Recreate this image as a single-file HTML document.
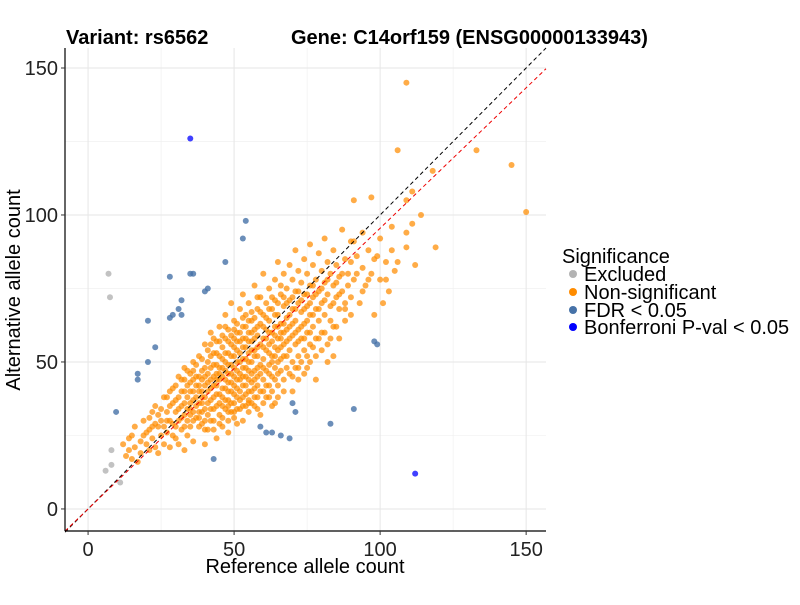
<!DOCTYPE html>
<html><head><meta charset="utf-8"><style>
body{margin:0;background:#fff;width:800px;height:600px;overflow:hidden;font-family:"Liberation Sans",sans-serif}
</style></head><body>
<svg id="chart" width="800" height="600" xmlns="http://www.w3.org/2000/svg" font-family="Liberation Sans, sans-serif">
<text x="66" y="44" font-size="20" font-weight="bold">Variant: rs6562</text>
<text x="291" y="44" font-size="20" font-weight="bold">Gene: C14orf159 (ENSG00000133943)</text>
<g id="grid"></g>
<g id="lines"></g>
<g id="points"></g>
<g id="axes"></g>
<text x="305" y="573" font-size="20" text-anchor="middle">Reference allele count</text>
<text transform="translate(20,290) rotate(-90)" font-size="20" text-anchor="middle">Alternative allele count</text>
<g>
<text x="562" y="263" font-size="20">Significance</text>
<circle cx="573" cy="274" r="4" fill="#b3b3b3"/>
<text x="584" y="281" font-size="20">Excluded</text>
<circle cx="573" cy="292" r="4" fill="#ff8c00"/>
<text x="584" y="299" font-size="20">Non-significant</text>
<circle cx="573" cy="310" r="4" fill="#4672a8"/>
<text x="584" y="317" font-size="20">FDR &lt; 0.05</text>
<circle cx="573" cy="327" r="4" fill="#0000ff"/>
<text x="584" y="334" font-size="20">Bonferroni P-val &lt; 0.05</text>
</g>
</svg>
<script>
const xTicks=[0,50,100,150];
const yTicks=[0,50,100,150];
const minorTicks=[25,75,125];
const slope=0.955;
const excluded=[[7,80],[7.5,72],[8,20],[8,15],[6,13],[11,9]];
const bonferroni=[[35,126],[112,12]];
const fdr=[[54,98],[53,92],[47,84],[28,79],[35,80],[36,80],[40,74],[41,75],[32,71],[31,68],[32,66],[28,65],[29,66],[20.5,64],[23,55],[20.5,50],[17,46],[17,44],[9.6,33],[43,17],[59,28],[61,26],[63,26],[66,25],[69,24],[70,36],[71,33],[83,29],[91,34],[98,57],[99,56]];
const nonsig=[[109,145],[106,122],[133,122],[145,117],[150,101],[118,115],[111,108],[109,105],[97,106],[91,105],[114,100],[111,97],[109,94],[109,89],[119,89],[112,83],[94,94],[91,91],
[12,22],[14,20],[15,25],[13,18],[17,16],[18,23],[16,28],[19,30],[20,26],[21,20],[22,33],[22,24],[23,35],[24,28],[24,19],[25,30],[26,38],[26,22],[27,33],[27,26],[28,40],[28,30],[28,21],[29,36],[29,25],[30,42],[30,33],[30,28],[31,38],[31,30],[31,22],[32,44],[32,35],[32,27],[33,40],[33,32],[33,20],[34,47],[34,38],[34,30],[34,25],[35,43],[35,36],[35,28],[36,50],[36,40],[36,33],[36,23],[37,45],[37,38],[37,31],[38,52],[38,42],[38,36],[38,28],[39,47],[39,40],[39,33],[40,56],[40,45],[40,38],[40,30],[40,22],[41,50],[41,43],[41,36],[41,27],[42,60],[42,48],[42,41],[42,34],[43,53],[43,45],[43,38],[43,30],[44,57],[44,49],[44,42],[44,35],[44,24],[45,62],[45,52],[45,46],[45,39],[45,32],[46,55],[46,48],[46,41],[46,35],[46,28],[47,66],[47,58],[47,50],[47,44],[47,37],[48,61],[48,53],[48,46],[48,40],[48,33],[48,26],[49,70],[49,56],[49,49],[49,43],[49,36],[50,64],[50,58],[50,52],[50,45],[50,39],[50,31],[51,60],[51,54],[51,47],[51,41],[51,34],[52,68],[52,57],[52,50],[52,44],[52,37],[53,73],[53,62],[53,55],[53,48],[53,42],[53,30],[54,66],[54,58],[54,51],[54,45],[54,39],[55,70],[55,60],[55,53],[55,47],[55,40],[55,33],[56,64],[56,57],[56,50],[56,43],[56,36],[57,76],[57,61],[57,54],[57,47],[57,41],[58,68],[58,59],[58,52],[58,45],[58,38],[59,72],[59,63],[59,56],[59,49],[59,32],[60,80],[60,66],[60,58],[60,51],[60,44],[61,70],[61,61],[61,54],[61,47],[61,38],[62,75],[62,64],[62,56],[62,49],[62,42],[63,68],[63,60],[63,52],[63,45],[64,78],[64,71],[64,62],[64,55],[64,48],[64,36],[65,84],[65,66],[65,58],[65,50],[65,42],[66,73],[66,63],[66,55],[66,47],[67,80],[67,69],[67,60],[67,52],[67,44],[68,75],[68,65],[68,57],[68,48],[69,83],[69,71],[69,62],[69,54],[70,78],[70,68],[70,59],[70,50],[70,40],[71,88],[71,74],[71,64],[71,56],[72,81],[72,70],[72,61],[72,52],[72,44],[73,77],[73,67],[73,58],[74,85],[74,73],[74,63],[74,54],[75,80],[75,69],[75,60],[75,48],[76,90],[76,76],[76,66],[76,56],[77,83],[77,72],[77,62],[78,78],[78,68],[78,58],[78,44],[79,87],[79,74],[79,64],[80,81],[80,70],[80,60],[81,92],[81,77],[81,66],[82,84],[82,73],[82,56],[83,80],[83,69],[84,88],[84,76],[84,62],[85,72],[85,83],[86,79],[86,68],[87,95],[87,74],[88,85],[88,64],[89,80],[90,91],[90,72],[91,78],[92,86],[93,70],[94,82],[95,76],[96,88],[97,80],[98,66],[99,86],[100,78],[101,70],[102,84],[103,74],[104,88],[105,81],
[38,45],[39,44],[40,48],[41,46],[42,52],[43,49],[44,46],[45,44],[46,51],[47,47],[48,49],[49,46],[50,48],[51,50],[52,46],[53,51],[54,48],[55,50],[56,46],[57,52],[58,48],[44,44],[45,48],[46,45],[47,53],[48,43],[49,52],[50,42],[51,44],[52,53],[53,45],[54,42],[55,44],[56,54],[57,44],[58,55],[59,46],[60,48],[36,44],[37,42],[39,38],[40,42],[41,40],[42,44],[43,42],[35,40],[34,42],[33,36],[38,40],[47,41],[48,37],[49,40],[50,36],[51,38],[52,40],[60,55],[61,58],[62,60],[63,57],[64,59],[65,62],[66,60],[67,63],[68,61],[62,53],[63,50],[64,52],[65,54],[66,51],[53,58],[54,55],[55,57],[56,60],[57,58],[58,62],
[30,37],[31,34],[32,40],[33,44],[34,34],[35,32],[36,37],[37,35],[37,49],[38,33],[39,51],[39,29],[40,34],[41,54],[41,32],[42,37],[42,56],[43,34],[43,58],[44,39],[44,53],[45,36],[45,57],[46,38],[46,59],[47,34],[47,62],[48,57],[48,30],[49,59],[49,33],[50,61],[50,55],[51,57],[51,63],[52,60],[52,34],[53,65],[53,38],[54,62],[54,35],[55,64],[55,37],[56,67],[56,40],[57,65],[57,38],[58,72],[58,42],[59,67],[59,40],[60,62],[60,40],[61,65],[61,42],[62,68],[62,46],[63,72],[63,40],[64,66],[64,44],[65,70],[65,46],[66,76],[66,58],[67,56],[67,72],[68,70],[68,52],[69,66],[69,58],[70,72],[70,63],[71,60],[71,68],[72,74],[72,57],[73,62],[73,71],[74,68],[74,58],[75,64],[75,73],[76,70],[76,60],[77,66],[77,76],[78,73],[79,68],[80,75],[81,71],[82,78],[83,64],[84,70],[85,77],[86,73],[87,80],[88,70],[89,76],[90,84],[92,80],[94,74],[96,78],[98,85],[100,92],[102,78],[104,96],[106,84],
[20,22],[21,27],[23,21],[25,25],[26,28],[27,30],[29,29],[30,24],[32,31],[33,28],[35,34],[36,30],[38,31],[39,36],[40,27],[42,30],[43,27],[45,29],[46,31],[48,35],[50,33],[51,29],[53,35],[55,36],[57,35],[58,34],[60,36],[62,38],[63,35],[65,38],[67,40],[69,46],[71,48],[73,50],[75,52],[77,55],[79,58],[81,60],[83,58],[85,62],[88,68],[90,66],[70,45],[72,48],[74,46],[76,50],[78,52],[80,54],[82,50],[84,52],[86,58],[35,46],[36,47],[33,48],[31,45],[29,41],[28,35],[27,38],[25,34],[24,32],[23,29],[22,28],[21,31],[19,25],[18,19],[16,21],[15,17],[14,24]];

const NS='http://www.w3.org/2000/svg';
const X0=-7.9,X1=156.8,Y0=-7.5,Y1=156.8,L=65,R=546,T=48,B=531;
const sx=v=>L+(v-X0)/(X1-X0)*(R-L);
const sy=v=>B-(v-Y0)/(Y1-Y0)*(B-T);
function mk(tag,attrs,parent){const e=document.createElementNS(NS,tag);for(const k in attrs)e.setAttribute(k,attrs[k]);parent.appendChild(e);return e;}
const grid=document.getElementById('grid');
minorTicks.concat(xTicks).forEach(v=>{
  const major=xTicks.includes(v);
  const a=mk('line',{x1:sx(v),x2:sx(v),y1:T,y2:B,stroke:major?'#e6e6e6':'#f0f0f0','stroke-width':major?1:0.7},grid);
  
  
  const b=mk('line',{x1:L,x2:R,y1:sy(v),y2:sy(v),stroke:major?'#e6e6e6':'#f0f0f0','stroke-width':major?1:0.7},grid);
  
  
});
const lines=document.getElementById('lines');
const pts=document.getElementById('points');
function draw(arr,color,op,name){arr.forEach(p=>{
  const c=mk('circle',{cx:sx(p[0]),cy:sy(p[1]),r:3,fill:color,'fill-opacity':op},pts);
  
  
});}
draw(nonsig,'#ff8c00',0.72,'point-nonsignificant');
draw(excluded,'#b3b3b3',0.8,'point-excluded');
draw(fdr,'#4672a8',0.8,'point-fdr');
draw(bonferroni,'#0000ff',0.75,'point-bonferroni');
const bl=mk('line',{x1:sx(X0),y1:sy(X0),x2:sx(X1),y2:sy(X1),stroke:'#000','stroke-dasharray':'4,3','stroke-width':1},pts);


const rl=mk('line',{x1:sx(X0),y1:sy(X0*slope),x2:sx(X1),y2:sy(X1*slope),stroke:'#e00','stroke-dasharray':'4,3','stroke-width':1},pts);


const axes=document.getElementById('axes');
const ax=mk('line',{x1:L,x2:R,y1:B,y2:B,stroke:'#000','stroke-width':1.2},axes);


const ay=mk('line',{x1:L,x2:L,y1:T,y2:B,stroke:'#000','stroke-width':1.2},axes);


xTicks.forEach(v=>{
  mk('line',{x1:sx(v),x2:sx(v),y1:B,y2:B+4,stroke:'#333'},axes);
  const t=mk('text',{x:sx(v),y:B+25,'font-size':20,'text-anchor':'middle',fill:'#222'},axes);
  t.textContent=v;
  
  
});
yTicks.forEach(v=>{
  mk('line',{x1:L-4,x2:L,y1:sy(v),y2:sy(v),stroke:'#333'},axes);
  const t=mk('text',{x:L-7,y:sy(v)+7,'font-size':20,'text-anchor':'end',fill:'#222'},axes);
  t.textContent=v;
  
  
});
</script>
</body></html>
